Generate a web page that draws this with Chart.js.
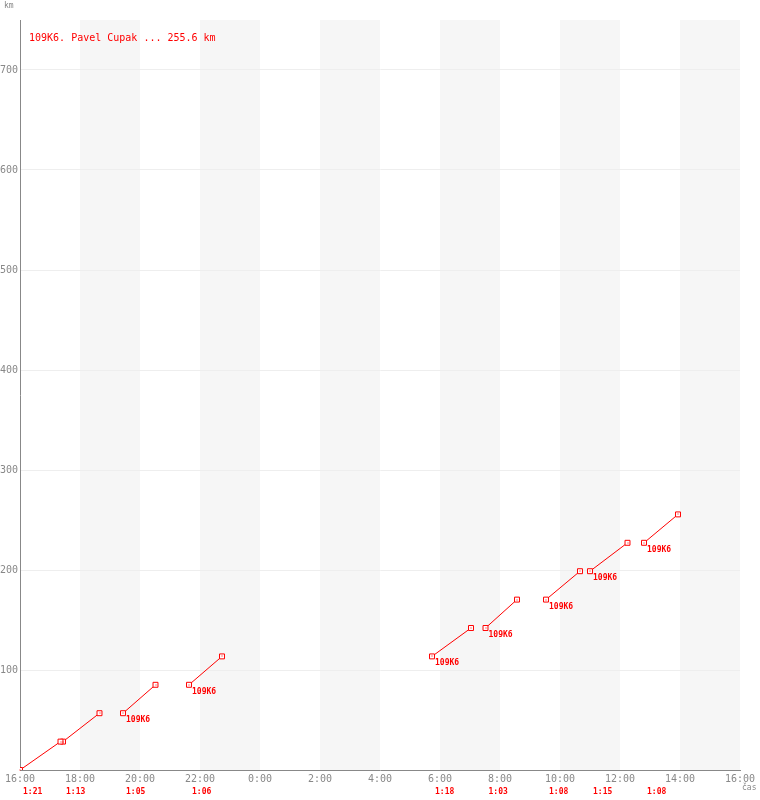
<!DOCTYPE html>
<html lang="cs">
<head>
<meta charset="UTF-8">
<title>109K6. Pavel Cupak</title>
<script src="https://cdn.jsdelivr.net/npm/chart.js@4.4.0/dist/chart.umd.min.js"></script>
<style>
  body { margin: 0; background: #fff; }
  canvas { display: block; }
</style>
</head>
<body>
<canvas id="graf" width="760" height="800"></canvas>
<script>
  // start kazdeho kola (hodiny), doba kola, km na konci kol
  const lapStart = ['16:00', '17:26', '19:26', '21:38', '05:44', '07:31', '09:32', '11:00', '12:48'];
  const lapTime = ['1:21', '1:13', '1:05', '1:06', '1:18', '1:03', '1:08', '1:15', '1:08'];
  const lapKm = [0, 28.4, 56.8, 85.2, 113.6, 142, 170.4, 198.8, 227.2, 255.6];
  const lapLabel = ['', '', '109K6', '109K6', '109K6', '109K6', '109K6', '109K6', '109K6'];
  const yTicks = [100, 200, 300, 400, 500, 600, 700];
  const shadeHours = [[2, 4], [6, 8], [10, 12], [14, 16], [18, 20], [22, 24]];
  const title = '109K6. Pavel Cupak ... 255.6 km';

  const mono = 'DejaVu Sans Mono';

  // cas -> hodiny od 16:00
  function toHours(s) {
    const [h, m] = s.split(':').map(Number);
    return ((h - 16 + 24) % 24) + m / 60;
  }

  const datasets = lapStart.map((s, i) => {
    const x0 = toHours(s);
    const [dh, dm] = lapTime[i].split(':').map(Number);
    return {
      data: [{ x: x0, y: lapKm[i] }, { x: x0 + dh + dm / 60, y: lapKm[i + 1] }],
      borderColor: 'red',
      borderWidth: 1,
      pointStyle: 'rect',
      pointRadius: 3.5,
      pointBorderWidth: 1,
      pointBorderColor: 'red',
      pointBackgroundColor: '#fff',
      fill: false
    };
  });

  const decor = {
    id: 'decor',
    beforeDraw(chart) {
      const { ctx, chartArea: a, scales: { x } } = chart;
      ctx.save();
      ctx.fillStyle = '#f6f6f6';
      shadeHours.forEach(([h0, h1]) => {
        const p0 = x.getPixelForValue(h0), p1 = x.getPixelForValue(h1);
        ctx.fillRect(p0, a.top, p1 - p0, a.bottom - a.top);
      });
      ctx.restore();
    },
    afterDatasetsDraw(chart) {
      const { ctx, chartArea: a, scales: { x } } = chart;
      ctx.save();
      ctx.fillStyle = 'red';
      chart.data.datasets.forEach((ds, i) => {
        const pts = chart.getDatasetMeta(i).data;
        pts.forEach(p => ctx.fillRect(Math.round(p.x) - 0.5, Math.round(p.y) - 0.5, 1, 1));
        ctx.textBaseline = 'middle';
        ctx.textAlign = 'left';
        ctx.font = 'bold 8px ' + mono;
        if (lapLabel[i]) ctx.fillText(lapLabel[i], pts[0].x + 3, pts[0].y + 7);
        ctx.fillText(lapTime[i], x.getPixelForValue(ds.data[0].x) + 3, a.bottom + 22);
      });
      ctx.font = '10px ' + mono;
      ctx.fillText(title, a.left + 9, a.top + 18);
      ctx.fillStyle = '#888';
      ctx.font = '8px ' + mono;
      ctx.fillText('km', 4, 6);
      ctx.fillText('čas', a.right + 2, a.bottom + 18);
      ctx.restore();
    }
  };

  new Chart('graf', {
    type: 'line',
    data: { datasets },
    options: {
      responsive: false,
      animation: false,
      layout: { padding: { top: 20, right: 20, left: 0, bottom: 0 } },
      plugins: { legend: { display: false }, tooltip: { enabled: false } },
      scales: {
        x: {
          type: 'linear',
          min: 0,
          max: 24,
          afterFit(s) { s.height = 30; },
          grid: { display: false, drawTicks: false },
          border: { color: '#888' },
          ticks: {
            stepSize: 2,
            padding: 3,
            color: '#888',
            maxRotation: 0,
            font: { family: mono, size: 10 },
            callback: v => ((v + 16) % 24) + ':00'
          }
        },
        y: {
          min: 0,
          max: 750,
          afterFit(s) { s.width = 20; },
          afterBuildTicks(s) { s.ticks = yTicks.map(v => ({ value: v })); },
          grid: { color: '#eee', drawTicks: false },
          border: { color: '#888' },
          ticks: {
            padding: 2,
            color: '#888',
            font: { family: mono, size: 10 }
          }
        }
      }
    },
    plugins: [decor]
  });
</script>
</body>
</html>
